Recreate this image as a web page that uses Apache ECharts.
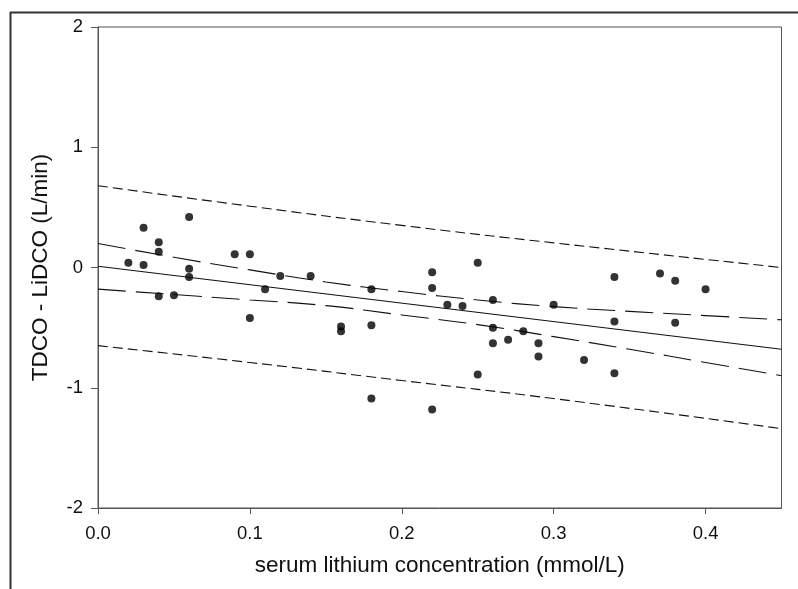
<!DOCTYPE html>
<html>
<head>
<meta charset="utf-8">
<script src="https://cdn.jsdelivr.net/npm/echarts@6/dist/echarts.min.js"></script>
<style>
  html, body { margin: 0; padding: 0; background: #fff; }
  #chart { width: 798px; height: 589px; }
</style>
</head>
<body>
<div id="chart"></div>
<script>
// measured points (serum lithium, TDCO - LiDCO)
const lithium = [0.02, 0.03, 0.03, 0.04, 0.04, 0.04, 0.05, 0.06, 0.06, 0.06,
  0.09, 0.10, 0.10, 0.11, 0.12, 0.14, 0.16, 0.16, 0.18, 0.18,
  0.18, 0.22, 0.22, 0.22, 0.23, 0.24, 0.25, 0.25, 0.26, 0.26,
  0.26, 0.27, 0.28, 0.29, 0.29, 0.30, 0.32, 0.34, 0.34, 0.34,
  0.37, 0.38, 0.38, 0.40]
const diff = [0.04, 0.33, 0.02, 0.21, 0.13, -0.24, -0.23, 0.42, -0.01, -0.08,
  0.11, 0.11, -0.42, -0.18, -0.07, -0.07, -0.49, -0.53, -0.18, -0.48,
  -1.09, -0.04, -0.17, -1.18, -0.31, -0.32, 0.04, -0.89, -0.27, -0.50,
  -0.63, -0.60, -0.53, -0.63, -0.74, -0.31, -0.77, -0.08, -0.45, -0.88,
  -0.05, -0.11, -0.46, -0.18]

// regression line and bands
const fitX = [0, 0.45]
const fitY = [0.01, -0.68]
const bandX = [0, 0.05, 0.10, 0.15, 0.20, 0.25, 0.30, 0.35, 0.40, 0.45]
const ciUpper = [0.20, 0.085, -0.02, -0.12, -0.20, -0.27, -0.325, -0.365, -0.40, -0.435]
const ciLower = [-0.18, -0.225, -0.27, -0.317, -0.395, -0.475, -0.575, -0.68, -0.79, -0.90]
const piX = [0, 0.1, 0.2, 0.3, 0.45]
const piUpper = [0.68, 0.51, 0.35, 0.205, 0.0]
const piLower = [-0.65, -0.79, -0.94, -1.09, -1.34]

const xTicks = [0, 0.1, 0.2, 0.3, 0.4]
const yTicks = [-2, -1, 0, 1, 2]

const font = "'Liberation Sans', Arial, Helvetica, sans-serif"
const axisGray = "#555"
const textColor = "#111"

function pairs(xs, ys) {
  return xs.map((x, i) => [x, ys[i]])
}

function bandLine(xs, ys, dash) {
  return {
    type: "line",
    data: pairs(xs, ys),
    showSymbol: false,
    smooth: true,
    silent: true,
    lineStyle: { color: "#111", width: 1.1, type: dash },
    z: 2
  }
}

const chart = echarts.init(document.getElementById("chart"))
chart.setOption({
  animation: false,
  backgroundColor: "#fff",
  grid: {
    left: 98, right: 16.5, top: 27, bottom: 81,
    show: true, borderColor: axisGray, borderWidth: 1, backgroundColor: "transparent"
  },
  graphic: [
    { type: "line", shape: { x1: 10.5, y1: 12, x2: 10.5, y2: 589 }, style: { stroke: "#333", lineWidth: 2 } },
    { type: "line", shape: { x1: 10, y1: 12.5, x2: 798, y2: 12.5 }, style: { stroke: "#333", lineWidth: 2 } }
  ],
  xAxis: {
    type: "value",
    min: 0,
    max: 0.45,
    interval: 0.1,
    name: "serum lithium concentration (mmol/L)",
    nameLocation: "middle",
    nameGap: 46,
    nameTextStyle: { fontFamily: font, fontSize: 22.5, color: textColor },
    axisLine: { onZero: false, lineStyle: { color: axisGray, width: 1 } },
    axisTick: { length: 6, customValues: xTicks, lineStyle: { color: axisGray } },
    axisLabel: {
      customValues: xTicks,
      margin: 16,
      fontFamily: font,
      fontSize: 18.5,
      color: textColor,
      formatter: (v) => v.toFixed(1)
    },
    splitLine: { show: false }
  },
  yAxis: {
    type: "value",
    min: -2,
    max: 2,
    interval: 1,
    name: "TDCO - LiDCO (L/min)",
    nameLocation: "middle",
    nameGap: 46,
    nameTextStyle: { fontFamily: font, fontSize: 22.5, color: textColor },
    axisLine: { show: true, onZero: false, lineStyle: { color: axisGray, width: 1 } },
    axisTick: { show: true, length: 7, lineStyle: { color: axisGray } },
    axisLabel: { customValues: yTicks, margin: 15, fontFamily: font, fontSize: 18.5, color: textColor },
    splitLine: { show: false }
  },
  series: [
    {
      type: "line",
      data: pairs(fitX, fitY),
      showSymbol: false,
      silent: true,
      lineStyle: { color: "#111", width: 1.1, type: "solid" },
      z: 2
    },
    bandLine(bandX, ciUpper, [28, 10]),
    bandLine(bandX, ciLower, [28, 10]),
    bandLine(piX, piUpper, [10, 5]),
    bandLine(piX, piLower, [10, 5]),
    {
      type: "scatter",
      data: pairs(lithium, diff),
      symbol: "circle",
      symbolSize: 8,
      itemStyle: { color: "#000" },
      z: 3
    }
  ]
})
</script>
</body>
</html>
